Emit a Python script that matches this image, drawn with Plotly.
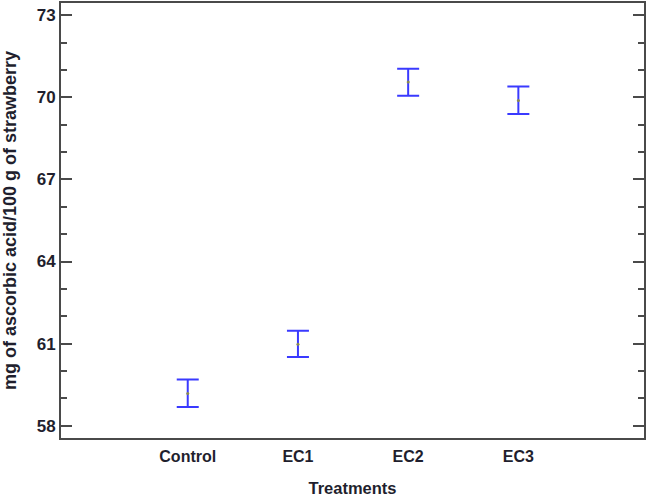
import plotly.graph_objects as go

# treatment means with lower / upper interval limits (mg ascorbic acid / 100 g)
treatments = ["Control", "EC1", "EC2", "EC3"]
means = [59.18, 60.98, 70.56, 69.89]
lower = [58.68, 60.51, 70.06, 69.39]
upper = [59.69, 61.47, 71.05, 70.40]

TEXT = "#1f1f2e"
AXIS = "#4a4a4a"
FONT = "Liberation Sans, Arial, sans-serif"

fig = go.Figure()
fig.add_trace(go.Scatter(
    x=treatments,
    y=means,
    mode="markers",
    marker=dict(size=3, color="#8a8a50"),
    error_y=dict(
        type="data",
        symmetric=False,
        array=[u - m for u, m in zip(upper, means)],
        arrayminus=[m - l for m, l in zip(means, lower)],
        color="#3a3aff",
        thickness=2,
        width=11,
    ),
    showlegend=False,
))

fig.update_layout(
    width=650,
    height=497,
    margin=dict(l=61, r=6, t=3, b=59),
    plot_bgcolor="white",
    paper_bgcolor="white",
    font=dict(family=FONT, color=TEXT),
    xaxis=dict(
        type="category",
        range=[-1.15, 4.14],
        automargin=False,
        showline=True, linecolor=AXIS, linewidth=2, mirror=True,
        showgrid=False, zeroline=False,
        ticks="",
        ticklabelstandoff=3,
        tickfont=dict(size=16, family=FONT, weight="bold"),
        title=dict(text="<b>Treatments</b>", font=dict(size=16.5), standoff=18),
    ),
    yaxis=dict(
        range=[57.55, 73.45],
        tick0=58, dtick=3,
        automargin=False,
        ticklabeloverflow="allow",
        showline=True, linecolor=AXIS, linewidth=2, mirror="ticks",
        showgrid=False, zeroline=False,
        ticks="inside", ticklen=11, tickwidth=2, tickcolor=AXIS,
        minor=dict(dtick=1, ticks="inside", ticklen=6, tickwidth=2, tickcolor=AXIS, showgrid=False),
        tickfont=dict(size=17, family=FONT, weight="bold"),
        title=dict(text="<b>mg of ascorbic acid/100 g of strawberry</b>", font=dict(size=18), standoff=20),
    ),
)

# drop the default 8px body margin so the figure sits at the window corner
fig.write_html(
    "out.html",
    config={"displayModeBar": False},
    post_script="document.body.style.margin='0';",
)
